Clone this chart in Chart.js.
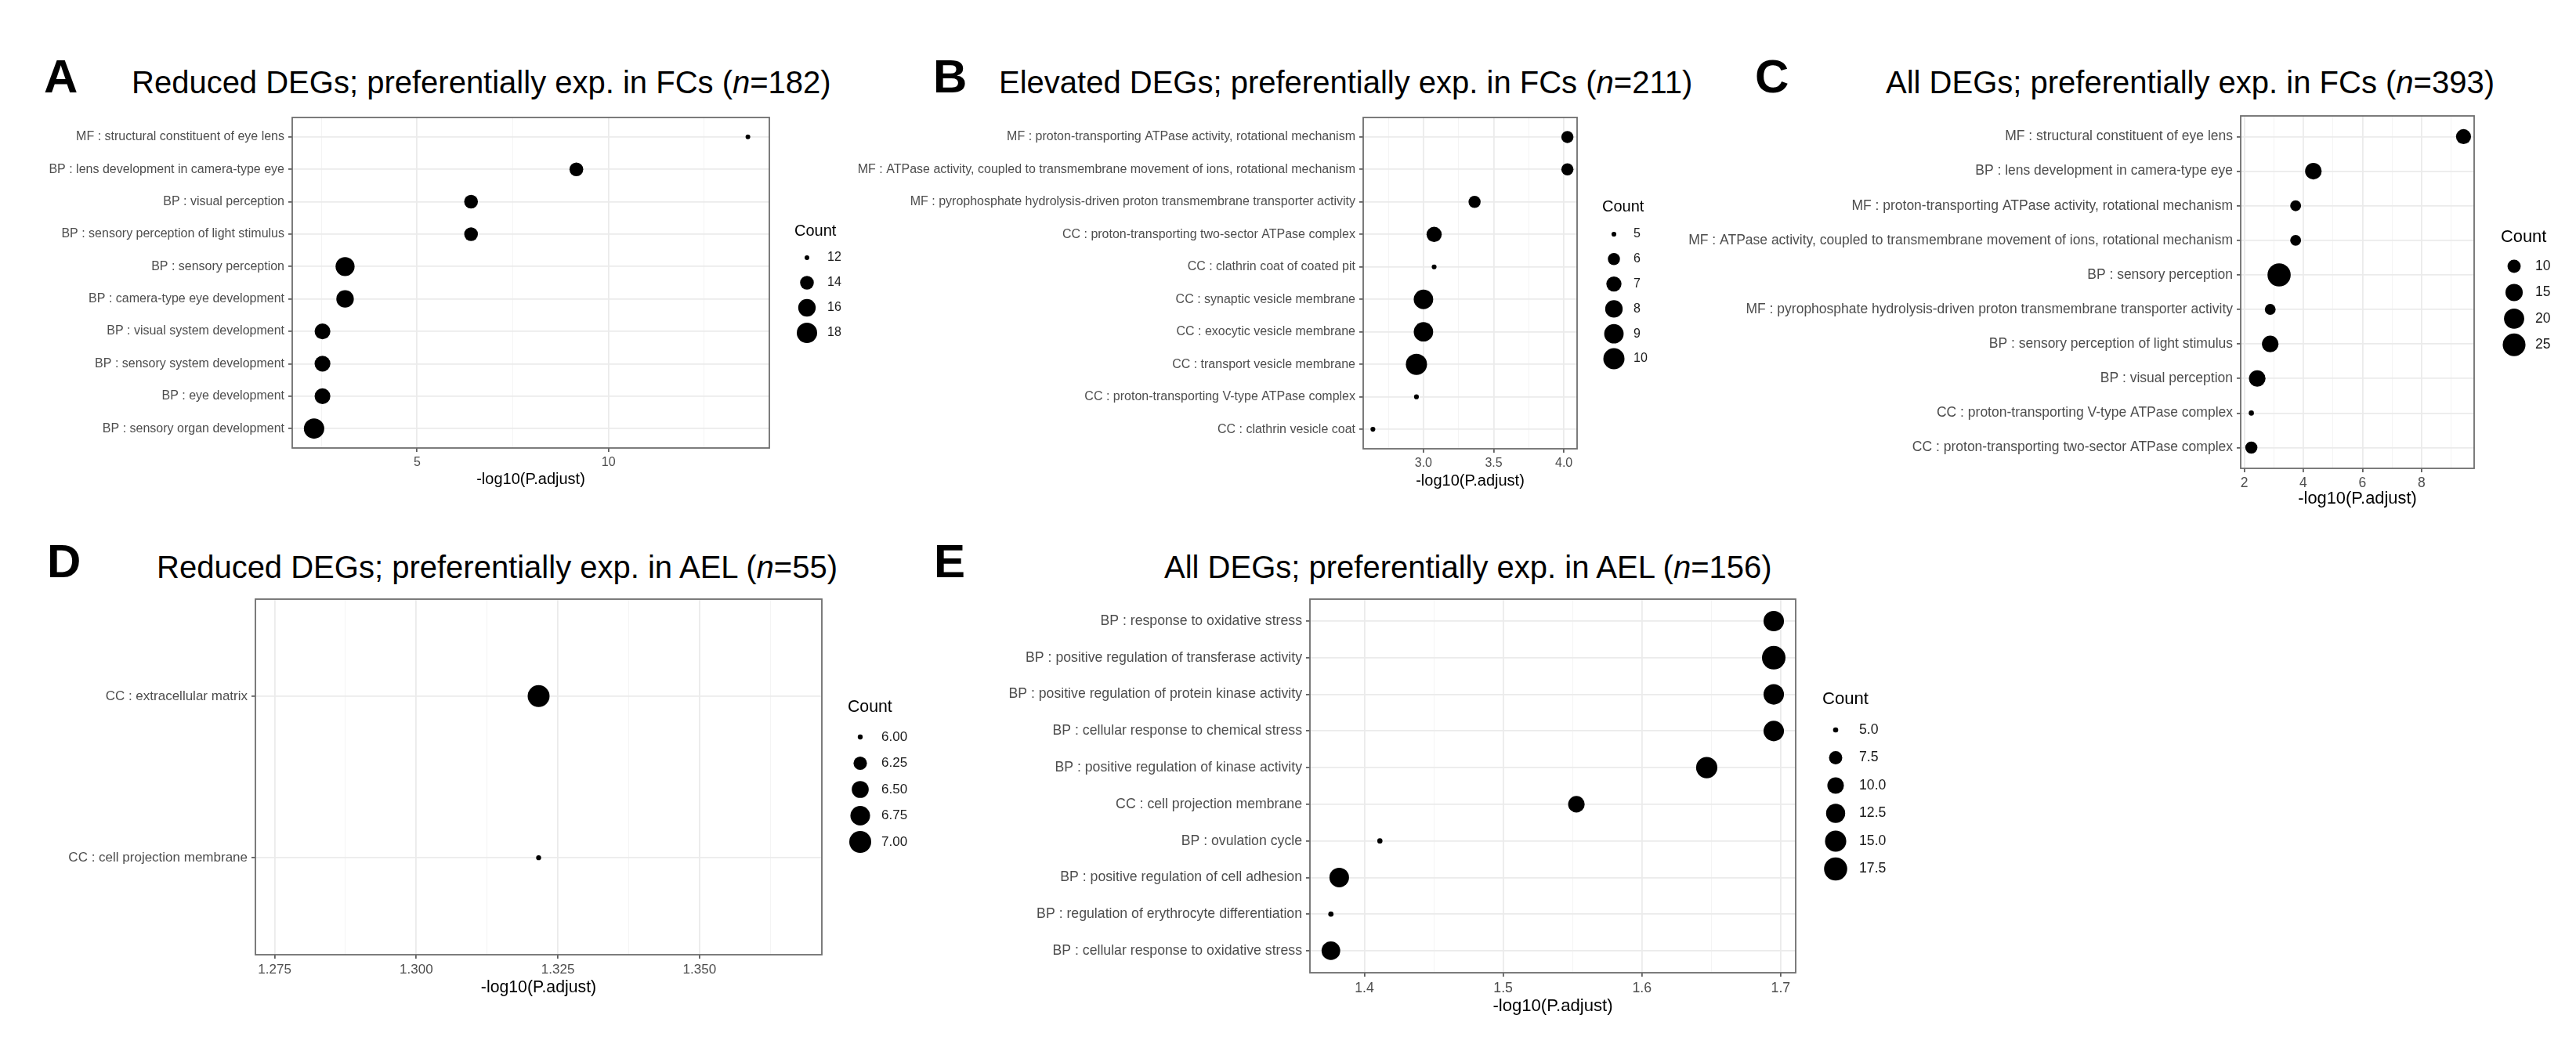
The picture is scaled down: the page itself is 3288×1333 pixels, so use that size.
<!DOCTYPE html>
<html>
<head>
<meta charset="utf-8">
<script src="https://cdn.jsdelivr.net/npm/chart.js@4.4.1/dist/chart.umd.min.js"></script>
<style>
  html, body { margin: 0; padding: 0; background: #fff; }
  body { width: 3288px; height: 1333px; position: relative; overflow: hidden;
         font-family: "Liberation Sans", Arial, Helvetica, sans-serif; }
  canvas { position: absolute; }
  .tag { position: absolute; font-weight: bold; font-size: 60px; line-height: 1; color: #000; }
  .ttl { position: absolute; font-size: 40px; line-height: 1; color: #000; white-space: nowrap; }
</style>
</head>
<body>
<div class="tag" style="left:56px;top:68px">A</div>
<div class="ttl" style="left:168px;top:85px">Reduced DEGs; preferentially exp. in FCs (<i>n</i>=182)</div>
<div class="tag" style="left:1191px;top:68px">B</div>
<div class="ttl" style="left:1275px;top:85px">Elevated DEGs; preferentially exp. in FCs (<i>n</i>=211)</div>
<div class="tag" style="left:2240px;top:68px">C</div>
<div class="ttl" style="left:2407px;top:85px">All DEGs; preferentially exp. in FCs (<i>n</i>=393)</div>
<div class="tag" style="left:60px;top:687px">D</div>
<div class="ttl" style="left:200px;top:704px">Reduced DEGs; preferentially exp. in AEL (<i>n</i>=55)</div>
<div class="tag" style="left:1192px;top:687px">E</div>
<div class="ttl" style="left:1486px;top:704px">All DEGs; preferentially exp. in AEL (<i>n</i>=156)</div>

<script>
// ---- data ----
const termsA = [
  "MF : structural constituent of eye lens",
  "BP : lens development in camera-type eye",
  "BP : visual perception",
  "BP : sensory perception of light stimulus",
  "BP : sensory perception",
  "BP : camera-type eye development",
  "BP : visual system development",
  "BP : sensory system development",
  "BP : eye development",
  "BP : sensory organ development",
]
const padjA = [13.64, 9.16, 6.41, 6.41, 3.12, 3.12, 2.53, 2.53, 2.53, 2.31]
const countA = [12, 14, 14, 14, 17, 16, 15, 15, 15, 18]
const ticksA = [5, 10]
const tickLabelsA = ["5", "10"]
const breaksA = [12, 14, 16, 18]
const breakLabelsA = ["12", "14", "16", "18"]

const termsB = [
  "MF : proton-transporting ATPase activity, rotational mechanism",
  "MF : ATPase activity, coupled to transmembrane movement of ions, rotational mechanism",
  "MF : pyrophosphate hydrolysis-driven proton transmembrane transporter activity",
  "CC : proton-transporting two-sector ATPase complex",
  "CC : clathrin coat of coated pit",
  "CC : synaptic vesicle membrane",
  "CC : exocytic vesicle membrane",
  "CC : transport vesicle membrane",
  "CC : proton-transporting V-type ATPase complex",
  "CC : clathrin vesicle coat",
]
const padjB = [4.025, 4.025, 3.364, 3.076, 3.076, 3.0, 3.0, 2.95, 2.95, 2.64]
const countB = [6, 6, 6, 7, 5, 9, 9, 10, 5, 5]
const ticksB = [3.0, 3.5, 4.0]
const tickLabelsB = ["3.0", "3.5", "4.0"]
const breaksB = [5, 6, 7, 8, 9, 10]
const breakLabelsB = ["5", "6", "7", "8", "9", "10"]

const termsC = [
  "MF : structural constituent of eye lens",
  "BP : lens development in camera-type eye",
  "MF : proton-transporting ATPase activity, rotational mechanism",
  "MF : ATPase activity, coupled to transmembrane movement of ions, rotational mechanism",
  "BP : sensory perception",
  "MF : pyrophosphate hydrolysis-driven proton transmembrane transporter activity",
  "BP : sensory perception of light stimulus",
  "BP : visual perception",
  "CC : proton-transporting V-type ATPase complex",
  "CC : proton-transporting two-sector ATPase complex",
]
const padjC = [9.42, 4.34, 3.74, 3.74, 3.18, 2.88, 2.88, 2.44, 2.24, 2.24]
const countC = [12, 14, 8, 8, 26, 8, 14, 14, 6, 9]
const ticksC = [2, 4, 6, 8]
const tickLabelsC = ["2", "4", "6", "8"]
const breaksC = [10, 15, 20, 25]
const breakLabelsC = ["10", "15", "20", "25"]

const termsD = ["CC : extracellular matrix", "CC : cell projection membrane"]
const padjD = [1.3216, 1.3216]
const countD = [7, 6]
const ticksD = [1.275, 1.3, 1.325, 1.35]
const tickLabelsD = ["1.275", "1.300", "1.325", "1.350"]
const breaksD = [6, 6.25, 6.5, 6.75, 7]
const breakLabelsD = ["6.00", "6.25", "6.50", "6.75", "7.00"]

const termsE = [
  "BP : response to oxidative stress",
  "BP : positive regulation of transferase activity",
  "BP : positive regulation of protein kinase activity",
  "BP : cellular response to chemical stress",
  "BP : positive regulation of kinase activity",
  "CC : cell projection membrane",
  "BP : ovulation cycle",
  "BP : positive regulation of cell adhesion",
  "BP : regulation of erythrocyte differentiation",
  "BP : cellular response to oxidative stress",
]
const padjE = [1.695, 1.695, 1.695, 1.695, 1.6467, 1.5528, 1.4112, 1.3819, 1.3759, 1.3759]
const countE = [14, 18, 14, 14, 15, 10, 5, 13, 5, 12]
const ticksE = [1.4, 1.5, 1.6, 1.7]
const tickLabelsE = ["1.4", "1.5", "1.6", "1.7"]
const breaksE = [5, 7.5, 10, 12.5, 15, 17.5]
const breakLabelsE = ["5.0", "7.5", "10.0", "12.5", "15.0", "17.5"]

// ---- layout of each panel (page pixels) ----
const panels = [
  { terms: termsA, padj: padjA, count: countA, ticks: ticksA, tickLabels: tickLabelsA,
    breaks: breaksA, breakLabels: breakLabelsA, xMin: 1.74, xMax: 14.2,
    canvas: { l: 0, t: 130, r: 1100, b: 640 }, box: { l: 373, t: 150, r: 982, b: 572 },
    font: 16, k: 4.0, xTitleY: 612,
    legend: { tx: 1014, ty: 295, kx: 1030, ky: 329, dy: 32, lx: 1056 } },
  { terms: termsB, padj: padjB, count: countB, ticks: ticksB, tickLabels: tickLabelsB,
    breaks: breaksB, breakLabels: breakLabelsB, xMin: 2.571, xMax: 4.094,
    canvas: { l: 1060, t: 130, r: 2140, b: 640 }, box: { l: 1740, t: 150, r: 2013, b: 573 },
    font: 16, k: 4.17, xTitleY: 614,
    legend: { tx: 2045, ty: 264, kx: 2060, ky: 299, dy: 31.8, lx: 2085 } },
  { terms: termsC, padj: padjC, count: countC, ticks: ticksC, tickLabels: tickLabelsC,
    breaks: breaksC, breakLabels: breakLabelsC, xMin: 1.88, xMax: 9.78,
    canvas: { l: 2120, t: 128, r: 3288, b: 670 }, box: { l: 2860, t: 148, r: 3158, b: 598 },
    font: 17.5, k: 4.6, xTitleY: 637,
    legend: { tx: 3192, ty: 303, kx: 3209, ky: 340, dy: 33.4, lx: 3236 } },
  { terms: termsD, padj: padjD, count: countD, ticks: ticksD, tickLabels: tickLabelsD,
    breaks: breaksD, breakLabels: breakLabelsD, xMin: 1.2716, xMax: 1.3716,
    canvas: { l: 0, t: 745, r: 1200, b: 1320 }, box: { l: 326, t: 765, r: 1049, b: 1219 },
    font: 17, k: 4.33, xTitleY: 1261,
    legend: { tx: 1082, ty: 903, kx: 1098, ky: 941, dy: 33.5, lx: 1125 } },
  { terms: termsE, padj: padjE, count: countE, ticks: ticksE, tickLabels: tickLabelsE,
    breaks: breaksE, breakLabels: breakLabelsE, xMin: 1.3608, xMax: 1.7108,
    canvas: { l: 1130, t: 745, r: 2500, b: 1320 }, box: { l: 1672, t: 765, r: 2292, b: 1242 },
    font: 17.7, k: 4.67, xTitleY: 1285,
    legend: { tx: 2326, ty: 893, kx: 2343, ky: 932, dy: 35.5, lx: 2373 } },
]

const FONT = "'Liberation Sans', Arial, Helvetica, sans-serif"
Chart.defaults.font.family = FONT

// ggplot-like area scaling: size 1..6 from sqrt of rescaled count
const radiusOf = (p, c) => {
  const lo = Math.min(...p.count), hi = Math.max(...p.count)
  const t = hi > lo ? (c - lo) / (hi - lo) : 0
  return (p.k * (1 + 5 * Math.sqrt(Math.max(0, t))) + 2) / 2
}

// minor grid lines halfway between major ticks
const minorTicks = (p) => {
  const step = p.ticks[1] - p.ticks[0]
  const out = []
  for (let v = p.ticks[0] - step / 2; v < p.xMax; v += step) {
    if (v > p.xMin) out.push(+v.toFixed(6))
  }
  return out
}

const panelBorder = {
  id: "panelBorder",
  afterDraw(chart) {
    const { ctx, chartArea: a } = chart
    ctx.save()
    ctx.strokeStyle = "#6e6e6e"
    ctx.lineWidth = 1.8
    ctx.strokeRect(a.left, a.top, a.right - a.left, a.bottom - a.top)
    ctx.restore()
  },
}

const countLegend = (p) => ({
  id: "countLegend",
  afterDraw(chart) {
    const ctx = chart.ctx
    const L = p.legend, ox = p.canvas.l, oy = p.canvas.t
    ctx.save()
    ctx.fillStyle = "#000"
    ctx.textBaseline = "middle"
    ctx.textAlign = "left"
    ctx.font = `${p.font * 1.25}px ${FONT}`
    ctx.fillText("Count", L.tx - ox, L.ty - oy)
    ctx.font = `${p.font}px ${FONT}`
    p.breaks.forEach((b, i) => {
      const y = L.ky + i * L.dy - oy
      ctx.fillStyle = "#000"
      ctx.beginPath()
      ctx.arc(L.kx - ox, y, radiusOf(p, b), 0, Math.PI * 2)
      ctx.fill()
      ctx.fillStyle = "#1a1a1a"
      ctx.fillText(p.breakLabels[i], L.lx - ox, y)
    })
    ctx.restore()
  },
})

panels.forEach((p) => {
  const cv = document.createElement("canvas")
  const W = p.canvas.r - p.canvas.l, H = p.canvas.b - p.canvas.t
  cv.width = W
  cv.height = H
  cv.style.left = p.canvas.l + "px"
  cv.style.top = p.canvas.t + "px"
  cv.style.width = W + "px"
  cv.style.height = H + "px"
  document.body.appendChild(cv)

  const yW = p.box.l - p.canvas.l
  const xH = p.canvas.b - p.box.b
  const titleSize = p.font * 1.25
  const titlePadBottom = p.canvas.b - p.xTitleY - (titleSize * 1.2) / 2
  const minors = minorTicks(p)
  const isMinor = (c) => c.tick && c.tick.minor
  const n = p.terms.length

  new Chart(cv, {
    type: "scatter",
    data: {
      datasets: [{
        data: p.padj.map((v, i) => ({ x: v, y: i })),
        pointRadius: (c) => (c.dataIndex == null ? 3 : radiusOf(p, p.count[c.dataIndex])),
        pointBackgroundColor: "#000",
        pointBorderWidth: 0,
        clip: false,
      }],
    },
    options: {
      responsive: false,
      animation: false,
      events: [],
      layout: { padding: { left: 0, top: p.box.t - p.canvas.t, right: p.canvas.r - p.box.r, bottom: 0 } },
      plugins: { legend: { display: false }, tooltip: { enabled: false } },
      scales: {
        x: {
          type: "linear",
          min: p.xMin,
          max: p.xMax,
          afterFit: (s) => { s.height = xH },
          afterBuildTicks: (s) => {
            s.ticks = p.ticks.map((v) => ({ value: v }))
              .concat(minors.map((v) => ({ value: v, minor: true })))
              .sort((a, b) => a.value - b.value)
          },
          ticks: {
            autoSkip: false,
            maxRotation: 0,
            padding: 4,
            color: "#4d4d4d",
            font: { size: p.font },
            callback: (v) => {
              const i = p.ticks.findIndex((t) => Math.abs(t - v) < 1e-9)
              return i >= 0 ? p.tickLabels[i] : ""
            },
          },
          grid: {
            color: (c) => (isMinor(c) ? "#f4f4f4" : "#ebebeb"),
            lineWidth: (c) => (isMinor(c) ? 1 : 1.8),
            tickColor: (c) => (isMinor(c) ? "rgba(0,0,0,0)" : "#4d4d4d"),
            tickLength: 5,
            tickWidth: 1.6,
          },
          border: { display: false },
          title: {
            display: true,
            text: "-log10(P.adjust)",
            color: "#000",
            font: { size: titleSize },
            padding: { top: 0, bottom: titlePadBottom },
          },
        },
        y: {
          type: "linear",
          reverse: true,
          min: -0.6,
          max: n - 0.4,
          afterFit: (s) => { s.width = yW },
          afterBuildTicks: (s) => { s.ticks = p.terms.map((t, i) => ({ value: i })) },
          ticks: {
            autoSkip: false,
            padding: 5,
            color: "#4d4d4d",
            font: { size: p.font },
            callback: (v) => p.terms[v],
          },
          grid: { color: "#ebebeb", lineWidth: 1.8, tickColor: "#4d4d4d", tickLength: 5, tickWidth: 1.6 },
          border: { display: false },
        },
      },
    },
    plugins: [panelBorder, countLegend(p)],
  })
})
</script>
</body>
</html>
